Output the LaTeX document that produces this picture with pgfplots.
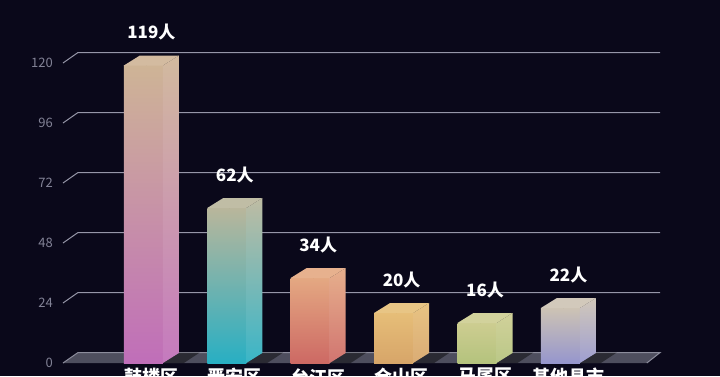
\documentclass[border=0pt]{standalone}
\usepackage{fontspec}
\setmainfont{Noto Sans CJK SC}
\usepackage{pgfplots}
\pgfplotsset{compat=1.18}
\definecolor{bg}{RGB}{10,8,26}
\definecolor{gridc}{RGB}{150,150,168}
\definecolor{tickc}{RGB}{130,130,150}
\definecolor{floorc}{RGB}{78,78,94}
\definecolor{flooredge}{RGB}{140,140,156}
\definecolor{aT}{RGB}{206,180,150}\definecolor{aB}{RGB}{192,110,185}
\definecolor{bT}{RGB}{185,182,155}\definecolor{bB}{RGB}{40,175,195}
\definecolor{cT}{RGB}{228,168,130}\definecolor{cB}{RGB}{205,105,100}
\definecolor{dT}{RGB}{230,190,120}\definecolor{dB}{RGB}{215,165,105}
\definecolor{eT}{RGB}{205,205,145}\definecolor{eB}{RGB}{180,195,125}
\definecolor{fT}{RGB}{205,195,180}\definecolor{fB}{RGB}{150,150,205}
\pgfplotsset{
  front/.style n args={2}{ybar, bar width=39pt, bar shift=-3pt, draw=none, top color=#1, bottom color=#2},
  side/.style n args={2}{draw=none, top color=#1!92!white, bottom color=#2!92!white},
  topf/.style={draw=none, fill=#1!90!white},
}
\begin{document}
\begin{tikzpicture}
\path[use as bounding box] (0,0) rectangle (720pt,376pt);
\fill[bg] (0,0) rectangle (720pt,376pt);
\clip (0,0) rectangle (720pt,376pt);
\begin{axis}[
  at={(63pt,13pt)}, anchor=south west,
  x=83.4pt, y=2.5pt,
  xmin=-1, xmax=6, ymin=0, ymax=120,
  clip=false,
  axis line style={draw=none},
  major tick length=0pt,
  tick style={draw=none},
  xtick={0,...,5},
  xticklabels={鼓楼区,晋安区,台江区,仓山区,马尾区,其他县市},
  xticklabel style={anchor=north, inner sep=0pt, yshift=-5pt, xshift=5pt, text=white, font=\bfseries\fontsize{18}{18}\selectfont},
  ytick={0,24,...,120},
  yticklabel style={anchor=east, inner sep=0pt, xshift=-10pt, text=tickc, font=\fontsize{13}{13}\selectfont},
  /pgf/number format/assume math mode=true,
]
% back-wall grid lines
\draw[gridc, line width=1pt] (-1,24) -- (-0.82,28.2) -- (6.16,28.2);
\draw[gridc, line width=1pt] (-1,48) -- (-0.82,52.2) -- (6.16,52.2);
\draw[gridc, line width=1pt] (-1,72) -- (-0.82,76.2) -- (6.16,76.2);
\draw[gridc, line width=1pt] (-1,96) -- (-0.82,100.2) -- (6.16,100.2);
\draw[gridc, line width=1pt] (-1,120) -- (-0.82,124.2) -- (6.16,124.2);
% floor
\fill[floorc] (-1,0) -- (6,0) -- (6.16,4.2) -- (-0.82,4.2) -- cycle;
\draw[flooredge, line width=1pt] (-1,0) -- (-0.82,4.2) -- (6.16,4.2) -- (6,0);
% shadows
\fill[black, opacity=0.45] (0.198,0) -- (0.45,0) -- (0.64,4.2) -- (0.39,4.2) -- cycle;
\fill[black, opacity=0.45] (1.198,0) -- (1.45,0) -- (1.64,4.2) -- (1.39,4.2) -- cycle;
\fill[black, opacity=0.45] (2.198,0) -- (2.45,0) -- (2.64,4.2) -- (2.39,4.2) -- cycle;
\fill[black, opacity=0.45] (3.198,0) -- (3.45,0) -- (3.64,4.2) -- (3.39,4.2) -- cycle;
\fill[black, opacity=0.45] (4.198,0) -- (4.45,0) -- (4.64,4.2) -- (4.39,4.2) -- cycle;
\fill[black, opacity=0.45] (5.198,0) -- (5.45,0) -- (5.64,4.2) -- (5.39,4.2) -- cycle;
% bar 1
\addplot[front={aT}{aB}] coordinates {(0,119)};
\addplot[side={aT}{aB}] coordinates {(0.198,0) (0.390,4) (0.390,123) (0.198,119)} -- cycle;
\addplot[topf=aT] coordinates {(-0.270,119) (-0.078,123) (0.390,123) (0.198,119)} -- cycle;
% bar 2
\addplot[front={bT}{bB}] coordinates {(1,62)};
\addplot[side={bT}{bB}] coordinates {(1.198,0) (1.390,4) (1.390,66) (1.198,62)} -- cycle;
\addplot[topf=bT] coordinates {(0.730,62) (0.922,66) (1.390,66) (1.198,62)} -- cycle;
% bar 3
\addplot[front={cT}{cB}] coordinates {(2,34)};
\addplot[side={cT}{cB}] coordinates {(2.198,0) (2.390,4) (2.390,38) (2.198,34)} -- cycle;
\addplot[topf=cT] coordinates {(1.730,34) (1.922,38) (2.390,38) (2.198,34)} -- cycle;
% bar 4
\addplot[front={dT}{dB}] coordinates {(3,20)};
\addplot[side={dT}{dB}] coordinates {(3.198,0) (3.390,4) (3.390,24) (3.198,20)} -- cycle;
\addplot[topf=dT] coordinates {(2.730,20) (2.922,24) (3.390,24) (3.198,20)} -- cycle;
% bar 5
\addplot[front={eT}{eB}] coordinates {(4,16)};
\addplot[side={eT}{eB}] coordinates {(4.198,0) (4.390,4) (4.390,20) (4.198,16)} -- cycle;
\addplot[topf=eT] coordinates {(3.730,16) (3.922,20) (4.390,20) (4.198,16)} -- cycle;
% bar 6
\addplot[front={fT}{fB}] coordinates {(5,22)};
\addplot[side={fT}{fB}] coordinates {(5.198,0) (5.390,4) (5.390,26) (5.198,22)} -- cycle;
\addplot[topf=fT] coordinates {(4.730,22) (4.922,26) (5.390,26) (5.198,22)} -- cycle;
% value labels
\addplot[only marks, mark=*, mark size=0pt, mark options={draw=none, fill=none},
  point meta=explicit symbolic, nodes near coords,
  nodes near coords style={anchor=center, yshift=33pt, xshift=5pt, text=white, font=\bfseries\fontsize{17}{17}\selectfont}]
  coordinates {(0,119)[119人] (1,62)[62人] (2,34)[34人] (3,20)[20人] (4,16)[16人] (5,22)[22人]};
\end{axis}
\end{tikzpicture}
\end{document}
